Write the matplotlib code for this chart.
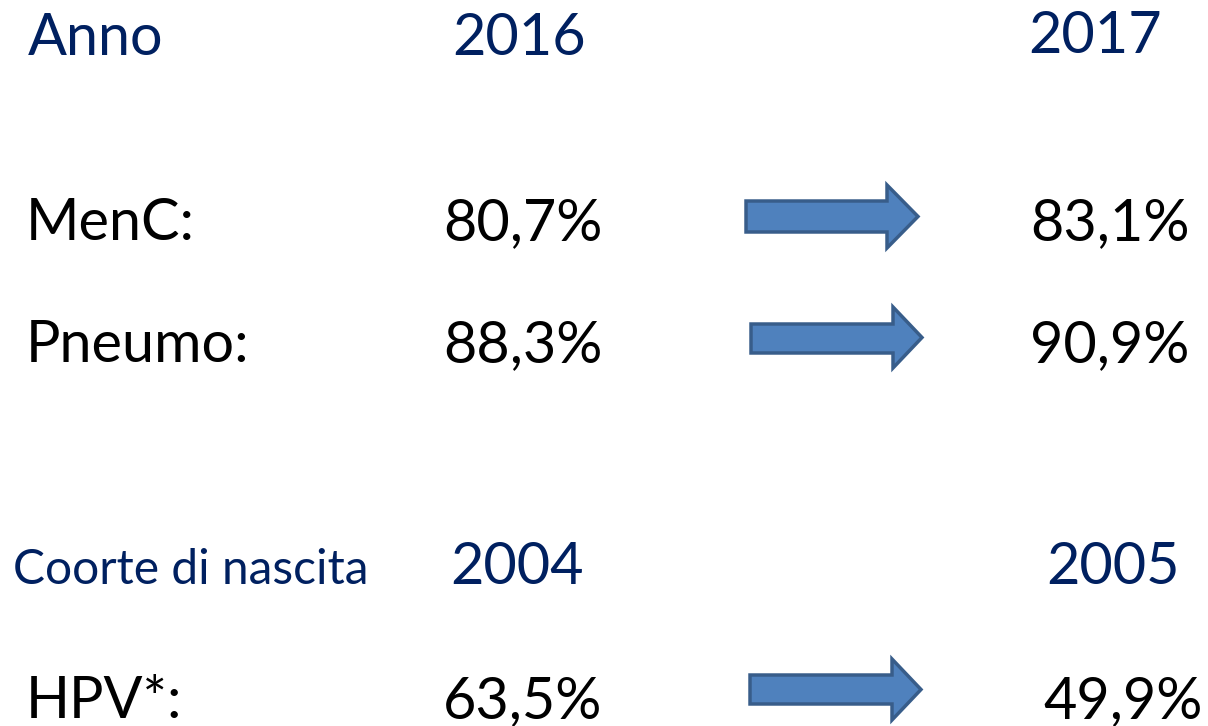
import matplotlib
matplotlib.use("Agg")
import matplotlib.pyplot as plt
from matplotlib.patches import Polygon

# ---- data ----
header_labels = ["Anno", "Coorte di nascita"]
header_years_from = ["2016", "2004"]
header_years_to = ["2017", "2005"]
vaccines = ["MenC:", "Pneumo:", "HPV*:"]
values_from = ["80,7%", "88,3%", "63,5%"]
values_to = ["83,1%", "90,9%", "49,9%"]

# ---- layout (pixel coordinates) ----
W, H = 1208, 726
fig = plt.figure(figsize=(W / 100, H / 100), dpi=100)
ax = fig.add_axes([0, 0, 1, 1])
ax.set_xlim(0, W)
ax.set_ylim(H, 0)
ax.axis("off")

FONT = "Lato"
NAVY = "#002060"
BIG = 41.5

# headers
header_y = [55, 584]
header_lx = [28, 13]
header_size = [BIG, 34.5]
from_x = [452, 450]
to_x = [1028, 1046]
to_dy = [-2, 0]
for i in range(2):
    y = header_y[i]
    ax.text(header_lx[i], y, header_labels[i], fontsize=header_size[i], family=FONT,
            color=NAVY, va="baseline", ha="left")
    ax.text(from_x[i], y, header_years_from[i], fontsize=BIG, family=FONT,
            color=NAVY, va="baseline", ha="left")
    ax.text(to_x[i], y + to_dy[i], header_years_to[i], fontsize=BIG, family=FONT,
            color=NAVY, va="baseline", ha="left")

# rows
row_y = [240, 362, 718]
val_from_x = [443, 443, 443]
val_to_x = [1030, 1030, 1043]
arrows = [  # (left, right_tip, shaft_top, shaft_bot, head_top, head_bot, head_base)
    (746, 918, 201, 232, 185, 248, 887),
    (751, 922, 324, 353, 307, 368, 893),
    (750, 921, 675, 704, 659, 720, 892),
]
for i, name in enumerate(vaccines):
    y = row_y[i]
    ax.text(26, y, name, fontsize=BIG, family=FONT, color="black", va="baseline", ha="left")
    ax.text(val_from_x[i], y, values_from[i], fontsize=BIG, family=FONT, color="black",
            va="baseline", ha="left")
    ax.text(val_to_x[i], y, values_to[i], fontsize=BIG, family=FONT, color="black",
            va="baseline", ha="left")
    l, r, st, sb, ht, hb, hbx = arrows[i]
    cy = (ht + hb) / 2
    pts = [(l, st), (hbx, st), (hbx, ht), (r, cy), (hbx, hb), (hbx, sb), (l, sb)]
    ax.add_patch(Polygon(pts, closed=True, facecolor="#4F81BD", edgecolor="#385D8A",
                         linewidth=2.5, joinstyle="miter"))

fig.savefig("out.png", dpi=100, facecolor="white")
